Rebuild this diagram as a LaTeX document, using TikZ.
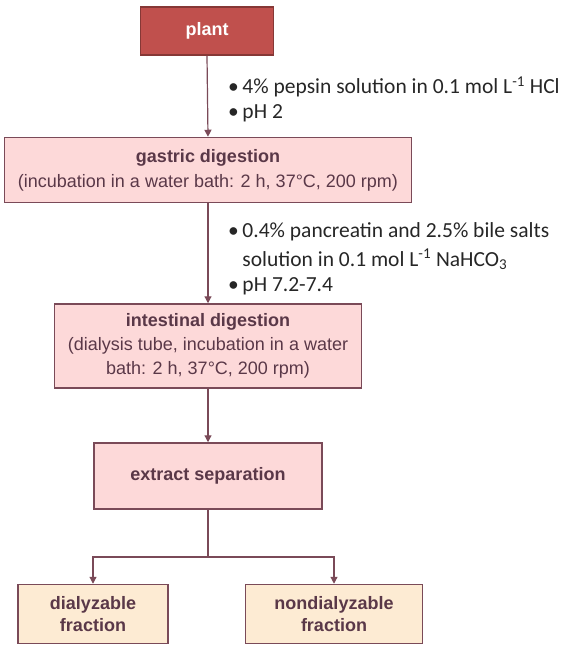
\documentclass[tikz,border=0pt]{standalone}
\usepackage{fontspec}
\setmainfont{Liberation Sans}
\newfontfamily\notefont{Carlito}
\usetikzlibrary{arrows.meta}
\definecolor{edgecol}{HTML}{7A4A58}
\definecolor{txtcol}{HTML}{5A3848}
\definecolor{plantfill}{HTML}{C0504D}
\definecolor{stepfill}{HTML}{FDD9D9}
\definecolor{fracfill}{HTML}{FDEBD3}
\tikzset{
  box/.style={rectangle, draw=edgecol, line width=1.5pt, text=txtcol, align=center,
    font=\fontsize{18}{25}\selectfont, inner sep=2pt},
  stepbox/.style={box, fill=stepfill},
  fracbox/.style={box, fill=fracfill},
  note/.style={anchor=west, inner sep=0pt, font=\notefont\fontsize{21.5}{25}\selectfont, text=black!85},
  arr/.style={draw=edgecol, line width=1.2pt, -{Triangle[length=7pt,width=7pt]}},
  link/.style={draw=edgecol, line width=1.2pt}
}
\begin{document}
\begin{tikzpicture}[x=1pt, y=-1pt]
			\useasboundingbox (0,0) rectangle (564,653);

			% Define nodes with their coordinates
			\node[box, fill=plantfill, draw=plantfill!70!black, text=white, minimum width=133pt, minimum height=48pt] (plant) at (207, 31) {\textbf{plant}};
			\node[stepbox, minimum width=407pt, minimum height=65pt] (gastric) at (208, 170) {\textbf{gastric digestion}\\(incubation in a water bath: 2 h, 37\textdegree C, 200 rpm)};
			\node[stepbox, minimum width=307pt, minimum height=84pt, font=\fontsize{18}{24}\selectfont] (intest) at (208, 346) {\textbf{intestinal digestion}\\(dialysis tube, incubation in a water\\bath: 2 h, 37\textdegree C, 200 rpm)};
			\node[stepbox, minimum width=228pt, minimum height=66pt] (extract) at (208, 476) {\textbf{extract separation}};
			\node[fracbox, minimum width=150pt, minimum height=59pt, font=\fontsize{18}{22}\selectfont] (dial) at (93, 614) {\textbf{dialyzable}\\\textbf{fraction}};
			\node[fracbox, minimum width=177pt, minimum height=59pt, font=\fontsize{18}{22}\selectfont] (nondial) at (334, 614) {\textbf{nondialyzable}\\\textbf{fraction}};

			% Conditions beside the arrows
			\node[note] (pepsin) at (228, 87) {\textbullet\,4\% pepsin solution in 0.1 mol L\textsuperscript{-1} HCl};
			\node[note] (phA) at (228, 113) {\textbullet\,pH 2};
			\node[note] (pancr) at (228, 232) {\textbullet\,0.4\% pancreatin and 2.5\% bile salts};
			\node[note] (solut) at (228, 259) {\phantom{\textbullet\,}solution in 0.1 mol L\textsuperscript{-1} NaHCO\textsubscript{3}};
			\node[note] (phB) at (228, 286) {\textbullet\,pH 7.2-7.4};

			% Draw connectors
			\coordinate (split) at (208, 557);
			\draw[arr] (plant.south) -- (gastric.north);
			\draw[arr] (gastric.south) -- (intest.north);
			\draw[arr] (intest.south) -- (extract.north);
			\draw[link] (extract.south) -- (split);
			\draw[arr] (split) -| (dial.north);
			\draw[arr] (split) -| (nondial.north);

		\end{tikzpicture}
\end{document}
